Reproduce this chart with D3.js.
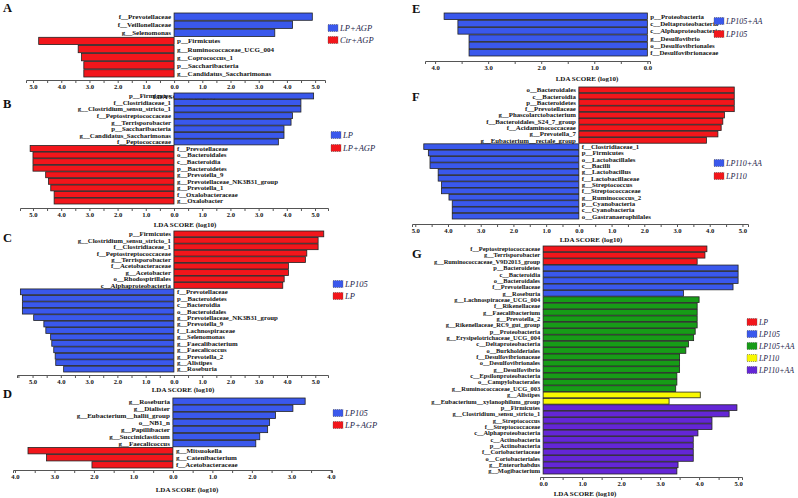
<!DOCTYPE html>
<html><head><meta charset="utf-8">
<script src="https://cdn.jsdelivr.net/npm/d3@7"></script>
<style>body{margin:0;background:#fff} svg{display:block}</style>
</head><body><svg id="c" width="798" height="498"></svg>
<script>
// ---------------- DATA ----------------
const aLabels = ["f__Prevotellaceae","f__Veillonellaceae","g__Selenomonas","p__Firmicutes","g__Ruminococcaceae_UCG_004","g__Coprococcus_1","p__Saccharibacteria","g__Candidatus_Saccharimonas"];
const aValues = [4.9, 4.2, 3.57, -4.8, -3.4, -3.28, -3.2, -3.2];
const aGroups = [0,0,0,1,1,1,1,1];
const aLegend = ["LP+AGP","Ctr+AGP"];

const bLabels = ["p__Firmicutes","f__Clostridiaceae_1","g__Clostridium_sensu_stricto_1","f__Peptostreptococcaceae","g__Terrisporobacter","p__Saccharibacteria","g__Candidatus_Saccharimonas","f__Peptococcaceae","f__Prevotellaceae","o__Bacteroidales","c__Bacteroidia","p__Bacteroidetes","g__Prevotella_9","g__Prevotellaceae_NK3B31_group","g__Prevotella_1","f__Oxalobacteraceae","g__Oxalobacter"];
const bValues = [4.95, 4.5, 4.5, 4.2, 4.15, 3.9, 3.9, 3.7, -5.1, -5.0, -5.0, -5.0, -4.55, -4.45, -4.37, -4.25, -4.25];
const bGroups = [0,0,0,0,0,0,0,0,1,1,1,1,1,1,1,1,1];
const bLegend = ["LP","LP+AGP"];

const cLabels = ["p__Firmicutes","g__Clostridium_sensu_stricto_1","f__Clostridiaceae_1","f__Peptostreptococcaceae","g__Terrisporobacter","f__Acetobacteraceae","g__Acetobacter","o__Rhodospirillales","c__Alphaproteobacteria","f__Prevotellaceae","p__Bacteroidetes","c__Bacteroidia","o__Bacteroidales","g__Prevotellaceae_NK3B31_group","g__Prevotella_9","f__Lachnospiraceae","g__Selenomonas","g__Faecalibacterium","g__Faecalicoccus","g__Prevotella_2","g__Alistipes","g__Roseburia"];
const cValues = [5.3, 5.1, 5.1, 4.7, 4.65, 4.05, 4.05, 3.9, 3.85, -5.43, -5.36, -5.36, -5.36, -4.96, -4.6, -4.53, -4.36, -4.32, -4.25, -4.2, -4.18, -3.9];
const cGroups = [1,1,1,1,1,1,1,1,1,0,0,0,0,0,0,0,0,0,0,0,0,0];
const cLegend = ["LP105","LP"];

const dLabels = ["g__Roseburia","g__Dialister","g__Eubacterium__hallii_group","o__NB1_n","g__Papillibacter","g__Succiniclasticum","g__Faecalicoccus","g__Mitsuokella","g__Catenibacterium","f__Acetobacteraceae"];
const dValues = [3.35, 3.04, 2.6, 2.45, 2.4, 2.2, 2.1, -3.67, -3.2, -2.05];
const dGroups = [0,0,0,0,0,0,0,1,1,1];
const dLegend = ["LP105","LP+AGP"];

const eLabels = ["p__Proteobacteria","c__Deltaproteobacteria","c__Alphaproteobacteria","g__Desulfovibrio","o__Desulfovibrionales","f__Desulfovibrionaceae"];
const eValues = [-3.83, -3.57, -3.57, -3.36, -3.36, -3.36];
const eGroups = [0,0,0,0,0,0];
const eLegend = ["LP105+AA","LP105"];

const fLabels = ["o__Bacteroidales","c__Bacteroidia","p__Bacteroidetes","f__Prevotellaceae","g__Phascolarctobacterium","f__Bacteroidales_S24_7_group","f__Acidaminococcaceae","g__Prevotella_7","g__Eubacterium__rectale_group","f__Clostridiaceae_1","p__Firmicutes","o__Lactobacillales","c__Bacilli","g__Lactobacillus","f__Lactobacillaceae","g__Streptococcus","f__Streptococcaceae","g__Ruminococcus_2","p__Cyanobacteria","c__Cyanobacteria","o__Gastranaerophilales"];
const fValues = [4.75, 4.75, 4.75, 4.75, 4.45, 4.4, 4.35, 4.25, 3.9, -4.74, -4.6, -4.55, -4.55, -4.3, -4.3, -4.2, -4.2, -3.97, -3.87, -3.87, -3.87];
const fGroups = [1,1,1,1,1,1,1,1,1,0,0,0,0,0,0,0,0,0,0,0,0];
const fLegend = ["LP110+AA","LP110"];

const gLabels = ["f__Peptostreptococcaceae","g__Terrisporobacter","g__Ruminococcaceae_V9D2013_group","p__Bacteroidetes","c__Bacteroidia","o__Bacteroidales","f__Prevotellaceae","g__Roseburia","g__Lachnospiraceae_UCG_004","f__Rikenellaceae","g__Faecalibacterium","g__Prevotella_2","g__Rikenellaceae_RC9_gut_group","p__Proteobacteria","g__Erysipelotrichaceae_UCG_004","c__Deltaproteobacteria","o__Burkholderiales","f__Desulfovibrionaceae","o__Desulfovibrionales","g__Desulfovibrio","c__Epsilonproteobacteria","o__Campylobacterales","g__Ruminococcaceae_UCG_003","g__Alistipes","g__Eubacterium__xylanophilum_group","p__Firmicutes","g__Clostridium_sensu_stricto_1","g__Streptococcus","f__Streptococcaceae","c__Alphaproteobacteria","c__Actinobacteria","p__Actinobacteria","f__Coriobacteriaceae","o__Coriobacteriales","g__Enterorhabdus","g__Mogibacterium"];
const gValues = [4.2, 4.15, 3.95, 5.0, 5.0, 5.0, 4.87, 3.6, 4.0, 3.95, 3.95, 3.95, 3.95, 3.9, 3.86, 3.73, 3.66, 3.5, 3.5, 3.5, 3.43, 3.43, 3.4, 4.03, 3.23, 4.97, 4.77, 4.33, 4.33, 3.97, 3.85, 3.85, 3.85, 3.85, 3.46, 3.43];
const gGroups = [0,0,0,1,1,1,1,1,2,2,2,2,2,2,2,2,2,2,2,2,2,2,2,3,3,4,4,4,4,4,4,4,4,4,4,4];
const gLegend = ["LP","LP105","LP105+AA","LP110","LP110+AA"];

// ---------------- STYLE ----------------
const RED = "#f2161b", BLUE = "#3a58ec", GREEN = "#179c17", YELLOW = "#f8f800", PURPLE = "#6426d6";
const SERIF = "'Liberation Serif','Times New Roman',serif";

const svg = d3.select("#c");

function drawPanel(p) {
  const g = svg.append("g");
  const x = d3.scaleLinear().domain(p.domain).range([p.xL, p.xR]);
  const y = d3.scaleBand().domain(d3.range(p.labels.length)).range([p.yTop, p.yBot]).paddingInner(0.1);

  g.selectAll("rect.bar").data(p.values).join("rect").attr("class","bar")
    .attr("x", d => x(Math.min(0, d)))
    .attr("width", d => Math.abs(x(d) - x(0)))
    .attr("y", (d, i) => y(i))
    .attr("height", y.bandwidth())
    .attr("fill", (d, i) => p.colors[p.groups[i]])
    .attr("stroke", "#222").attr("stroke-width", 0.8);

  g.selectAll("text.lab").data(p.labels).join("text").attr("class","lab")
    .attr("x", (d, i) => p.values[i] > 0 ? x(0) - 3 : x(0) + 3)
    .attr("text-anchor", (d, i) => p.values[i] > 0 ? "end" : "start")
    .attr("y", (d, i) => y(i) + y.bandwidth() / 2)
    .attr("dy", "0.35em")
    .style("font-family", SERIF).style("font-weight", "bold").style("font-size", p.fs + "px")
    .attr("fill", "#111")
    .text(d => d);

  const ticks = d3.range(Math.ceil(p.domain[0] * 2) / 2, p.domain[1] + 1e-9, 0.5);
  const ax = d3.axisBottom(x).tickValues(ticks).tickSize(3).tickSizeOuter(3).tickPadding(1.5)
    .tickFormat(v => Math.abs(v - Math.round(v)) < 1e-9 ? Math.abs(v).toFixed(1) : "");
  const axg = g.append("g").attr("transform", `translate(0,${p.axisY})`).call(ax);
  axg.select(".domain").attr("stroke", "#555");
  axg.selectAll(".tick line").attr("stroke", "#555");
  axg.selectAll(".tick text").style("font-family", SERIF).style("font-weight", "bold")
    .style("font-size", "6.6px").attr("fill", "#111");

  g.append("text").attr("x", p.titleX).attr("y", p.titleY).attr("text-anchor", "middle")
    .style("font-family", SERIF).style("font-weight", "bold").style("font-size", "7px")
    .attr("fill", "#111").text("LDA SCORE (log10)");

  g.append("text").attr("x", p.letter[0]).attr("y", p.letter[1])
    .style("font-family", SERIF).style("font-weight", "bold").style("font-size", "12.5px")
    .attr("fill", "#111").text(p.name);

  const lg = g.append("g");
  p.legend.forEach((name, i) => {
    const cy = p.legY[i];
    lg.append("rect").attr("x", p.legX).attr("y", cy - 3.5).attr("width", 10).attr("height", 7)
      .attr("fill", p.colors[i]).attr("stroke", "#555").attr("stroke-width", 0.6).attr("stroke-dasharray", "1,1");
    lg.append("text").attr("x", p.legX + 12).attr("y", cy).attr("dy", "0.35em")
      .style("font-family", SERIF).style("font-style", "italic").style("font-size", p.lfs + "px")
      .attr("fill", "#1c1c48").text(name);
  });
}

const panels = [
  {name:"A", labels:aLabels, values:aValues, groups:aGroups, legend:aLegend, colors:[BLUE, RED], fs:7, lfs:8.5,
   domain:[-5.25, 5.35], xL:26, xR:325, yTop:13, yBot:77, axisY:80, titleX:184, titleY:99,
   letter:[3,12], legX:328, legY:[28, 40]},
  {name:"B", labels:bLabels, values:bValues, groups:bGroups, legend:bLegend, colors:[BLUE, RED], fs:6.8, lfs:8.5,
   domain:[-5.46, 5.46], xL:20, xR:328, yTop:93, yBot:204, axisY:208, titleX:185, titleY:227,
   letter:[3,108], legX:331, legY:[135, 148]},
  {name:"C", labels:cLabels, values:cValues, groups:cGroups, legend:cLegend, colors:[BLUE, RED], fs:6.8, lfs:8.5,
   domain:[-5.55, 5.45], xL:17, xR:328, yTop:231, yBot:372, axisY:375, titleX:183, titleY:392,
   letter:[3,242], legX:333, legY:[284, 296]},
  {name:"D", labels:dLabels, values:dValues, groups:dGroups, legend:dLegend, colors:[BLUE, RED], fs:7, lfs:8.5,
   domain:[-4.05, 4.03], xL:13, xR:332, yTop:398, yBot:468, axisY:470, titleX:187, titleY:492,
   letter:[3,398], legX:333, legY:[413, 425]},
  {name:"E", labels:eLabels, values:eValues, groups:eGroups, legend:eLegend, colors:[BLUE, RED], fs:6.8, lfs:8,
   domain:[-4.19, 0.05], xL:425, xR:650, yTop:13, yBot:56, axisY:61, titleX:587, titleY:81,
   letter:[412,13], legX:714, legY:[21, 34]},
  {name:"F", labels:fLabels, values:fValues, groups:fGroups, legend:fLegend, colors:[BLUE, RED], fs:6.8, lfs:8,
   domain:[-5.1, 5.17], xL:412, xR:748, yTop:87, yBot:219, axisY:224, titleX:591, titleY:242,
   letter:[412,101], legX:714, legY:[163, 176]},
  {name:"G", labels:gLabels, values:gValues, groups:gGroups, legend:gLegend, colors:[RED, BLUE, GREEN, YELLOW, PURPLE], fs:6.4, lfs:7.8,
   domain:[-0.08, 5.1], xL:540, xR:742, yTop:246, yBot:474, axisY:477, titleX:585, titleY:496,
   letter:[412,258], legX:747, legY:[322, 334, 346, 358, 370]}
];
panels.forEach(drawPanel);
</script>
</body></html>
